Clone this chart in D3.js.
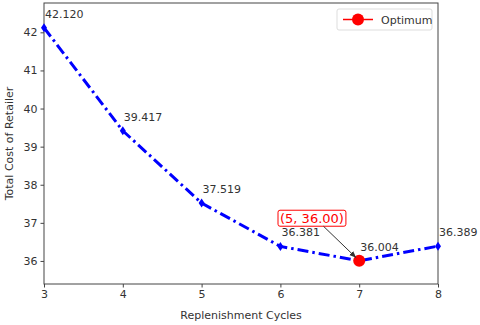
<!DOCTYPE html>
<html>
<head>
<meta charset="utf-8">
<script src="https://cdn.jsdelivr.net/npm/d3@7"></script>
<style>
  body { margin: 0; background: #fff; }
  text { font-family: "DejaVu Sans", sans-serif; }
</style>
</head>
<body>
<div id="chart"></div>
<script>
const width = 480;
const height = 325;
const margin = { top: 3, right: 42, bottom: 41, left: 44 };

// data
const cycles = [3, 4, 5, 6, 7, 8];
const costs = [42.120, 39.417, 37.519, 36.381, 36.004, 36.389];
const xTicks = [3, 4, 5, 6, 7, 8];
const yTicks = [36, 37, 38, 39, 40, 41, 42];
const optimum = [7, 36.004];
const optimumLabel = "(5, 36.00)";

const svg = d3.select("#chart")
  .append("svg")
  .attr("width", width)
  .attr("height", height);

const x = d3.scaleLinear()
  .domain([3, 8])
  .range([margin.left, width - margin.right]);

const y = d3.scaleLinear()
  .domain([35.395, 42.77])
  .range([height - margin.bottom, margin.top]);

const textColor = "#333";

// axes
const xAxis = svg.append("g")
  .attr("transform", `translate(0,${height - margin.bottom})`)
  .call(d3.axisBottom(x).tickValues(xTicks).tickSize(3.5).tickPadding(3).tickFormat(d3.format("d")));

const yAxis = svg.append("g")
  .attr("transform", `translate(${margin.left},0)`)
  .call(d3.axisLeft(y).tickValues(yTicks).tickSize(3.5).tickPadding(3).tickFormat(d3.format("d")));

[xAxis, yAxis].forEach(g => {
  g.select(".domain").remove();
  g.selectAll("line").attr("stroke", "#444");
  g.selectAll("text").attr("font-size", 11).attr("fill", textColor)
    .attr("font-family", "DejaVu Sans, sans-serif");
});

// frame
svg.append("rect")
  .attr("x", margin.left)
  .attr("y", margin.top)
  .attr("width", width - margin.left - margin.right)
  .attr("height", height - margin.top - margin.bottom)
  .attr("fill", "none")
  .attr("stroke", "#444")
  .attr("stroke-width", 1);

// line
const line = d3.line()
  .x((d, i) => x(cycles[i]))
  .y(d => y(d));

svg.append("path")
  .datum(costs)
  .attr("d", line)
  .attr("fill", "none")
  .attr("stroke", "#0000ff")
  .attr("stroke-width", 3)
  .attr("stroke-dasharray", "11,4,2.5,4");

// thin diamond markers
svg.selectAll(".marker")
  .data(costs)
  .join("path")
  .attr("class", "marker")
  .attr("transform", (d, i) => `translate(${x(cycles[i])},${y(d)})`)
  .attr("d", "M0,-4.5L3,0L0,4.5L-3,0Z")
  .attr("fill", "#0000ff");

// value labels
svg.selectAll(".val")
  .data(costs)
  .join("text")
  .attr("class", "val")
  .attr("x", (d, i) => x(cycles[i]) + 1)
  .attr("y", d => y(d) - 10)
  .attr("font-size", 11)
  .attr("fill", textColor)
  .text(d => d.toFixed(3));

// optimum point
svg.append("circle")
  .attr("cx", x(optimum[0]))
  .attr("cy", y(optimum[1]))
  .attr("r", 6)
  .attr("fill", "#ff0000");

// annotation
const ann = svg.append("g");
const annX = x(5.995), annY = y(36.99);
const annText = ann.append("text")
  .attr("x", annX)
  .attr("y", annY)
  .attr("font-size", 13)
  .attr("fill", "#ff0000")
  .text(optimumLabel);
const bb = annText.node().getBBox();
ann.insert("rect", "text")
  .attr("x", bb.x - 2)
  .attr("y", bb.y - 1)
  .attr("width", bb.width + 4)
  .attr("height", bb.height + 1)
  .attr("rx", 2)
  .attr("fill", "#fff")
  .attr("stroke", "#ff0000")
  .attr("stroke-width", 1);

svg.append("defs").append("marker")
  .attr("id", "arrow")
  .attr("viewBox", "0 0 10 10")
  .attr("refX", 10)
  .attr("refY", 5)
  .attr("markerWidth", 7)
  .attr("markerHeight", 7)
  .attr("orient", "auto")
  .append("path")
  .attr("d", "M0,1L10,5L0,9Z")
  .attr("fill", "#333");

svg.append("line")
  .attr("x1", bb.x + bb.width * 0.68)
  .attr("y1", bb.y + bb.height)
  .attr("x2", x(optimum[0]) - 3)
  .attr("y2", y(optimum[1]) - 3)
  .attr("stroke", "#333")
  .attr("stroke-width", 1)
  .attr("marker-end", "url(#arrow)");

// legend
const lg = svg.append("g").attr("transform", "translate(337,9)");
lg.append("rect")
  .attr("width", 95)
  .attr("height", 21)
  .attr("rx", 2)
  .attr("fill", "#fff")
  .attr("stroke", "#ddd");
lg.append("line")
  .attr("x1", 6).attr("x2", 36)
  .attr("y1", 10.5).attr("y2", 10.5)
  .attr("stroke", "#ff0000").attr("stroke-width", 1.5);
lg.append("circle")
  .attr("cx", 21).attr("cy", 10.5).attr("r", 6)
  .attr("fill", "#ff0000");
lg.append("text")
  .attr("x", 44).attr("y", 14.5)
  .attr("font-size", 11)
  .attr("fill", textColor)
  .text("Optimum");

// axis titles
svg.append("text")
  .attr("x", (margin.left + width - margin.right) / 2)
  .attr("y", height - 6)
  .attr("text-anchor", "middle")
  .attr("font-size", 11)
  .attr("fill", textColor)
  .text("Replenishment Cycles");

svg.append("text")
  .attr("transform", `translate(13,${(margin.top + height - margin.bottom) / 2}) rotate(-90)`)
  .attr("text-anchor", "middle")
  .attr("font-size", 11)
  .attr("fill", textColor)
  .text("Total Cost of Retailer");
</script>
</body>
</html>
